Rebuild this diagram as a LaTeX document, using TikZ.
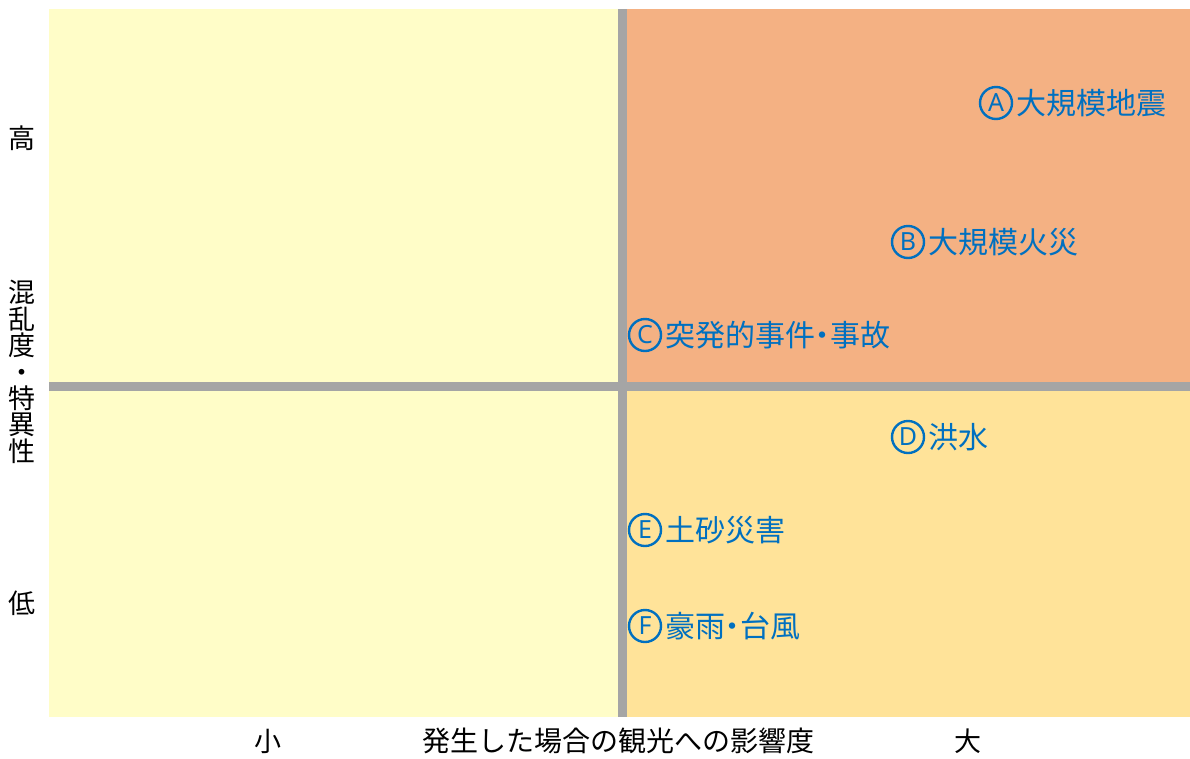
\documentclass[tikz,border=0pt]{standalone}
\usepackage{fontspec}
\usetikzlibrary{positioning}
\setmainfont{Noto Sans CJK JP}
\newfontfamily\latinsans{Noto Sans}
\definecolor{paleyellow}{HTML}{FFFDC8}
\definecolor{quadorange}{HTML}{F4B183}
\definecolor{quadyellow}{HTML}{FFE399}
\definecolor{divgray}{HTML}{A5A5A5}
\definecolor{itemblue}{HTML}{0070C0}
\newcommand{\middot}{\kern-7.5pt・\kern-7.5pt}
\tikzset{
  item/.style={inner sep=0pt, text=itemblue, font=\fontsize{30}{34}\selectfont},
  letterring/.style={circle, draw=itemblue, line width=2.4pt, minimum size=32pt, inner sep=0pt, text=itemblue, font=\latinsans\fontsize{25}{28}\selectfont},
  axislabel/.style={inner sep=0pt, text=black, font=\fontsize{27}{30}\selectfont},
}
\begin{document}
\begin{tikzpicture}[x=1pt,y=-1pt]
\useasboundingbox (0,0) rectangle (1190,758);
% quadrants
\fill[paleyellow] (49,9) rectangle (622.5,717);
\fill[quadorange] (622.5,9) rectangle (1190,386.5);
\fill[quadyellow] (622.5,386.5) rectangle (1190,717);
% dividers
\fill[divgray] (618,9) rectangle (627,717);
\fill[divgray] (49,382) rectangle (1190,391);
% items
\node[letterring] (aL) at (996,103) {A};
\node[item, right=3pt of aL] (a) {大規模地震};
\node[letterring] (bL) at (908,242) {B};
\node[item, right=3pt of bL] (b) {大規模火災};
\node[letterring] (cL) at (645,335) {C};
\node[item, right=3pt of cL] (c) {突発的事件\middot 事故};
\node[letterring] (dL) at (908,437) {D};
\node[item, right=3pt of dL] (d) {洪水};
\node[letterring] (eL) at (645,530) {E};
\node[item, right=3pt of eL] (e) {土砂災害};
\node[letterring] (fL) at (645,626) {F};
\node[item, right=3pt of fL] (f) {豪雨\middot 台風};
% axis labels
\node[axislabel] (hi) at (22,138) {高};
\node[axislabel] (lo) at (22,603) {低};
\node[axislabel, align=center, font=\fontsize{27}{26.4}\selectfont] (vlab) at (22,372) {混\\乱\\度\\・\\特\\異\\性};
\node[axislabel] (small) at (268,741) {小};
\node[axislabel, font=\fontsize{28}{30}\selectfont] (xlab) at (618,741) {発生した場合の観光への影響度};
\node[axislabel] (big) at (968,741) {大};
\end{tikzpicture}
\end{document}
